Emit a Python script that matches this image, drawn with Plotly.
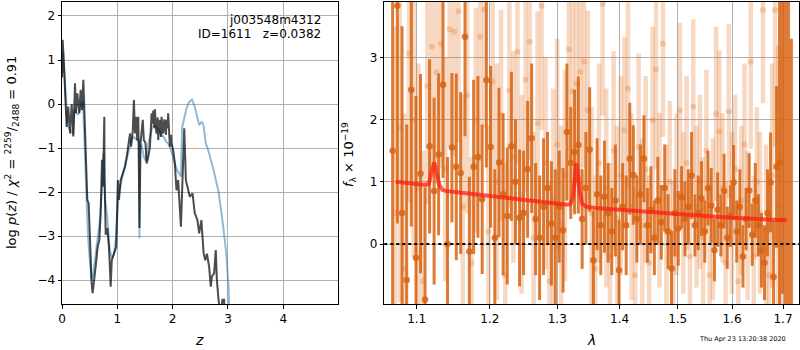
import plotly.graph_objects as go

# ---------------- left panel: log p(z) ----------------
z_dark = [0.00, 0.012, 0.036, 0.07, 0.084, 0.114, 0.145, 0.175, 0.205, 0.235, 0.253, 0.277, 0.313, 0.337,
          0.362, 0.386, 0.404, 0.428, 0.458, 0.482, 0.506, 0.536, 0.554, 0.585, 0.615, 0.645, 0.675, 0.699,
          0.723, 0.741, 0.765, 0.77, 0.79, 0.82, 0.85, 0.88, 0.90, 0.94, 0.98, 1.01, 1.03, 1.06, 1.10, 1.14,
          1.17, 1.20, 1.23, 1.25, 1.28, 1.30, 1.32, 1.34, 1.36, 1.38, 1.40, 1.42, 1.44, 1.46, 1.48, 1.51,
          1.53, 1.56, 1.59, 1.61, 1.62, 1.64, 1.65, 1.67, 1.68, 1.70, 1.71, 1.73, 1.74, 1.76, 1.77, 1.79,
          1.80, 1.82, 1.83, 1.85, 1.86, 1.88, 1.89, 1.91, 1.92, 1.94, 1.95, 1.97, 1.98,
          2.01, 2.04, 2.07, 2.10, 2.15, 2.18, 2.21, 2.24, 2.27, 2.31, 2.36, 2.40, 2.45, 2.48, 2.52, 2.56,
          2.59, 2.62, 2.66, 2.69, 2.71, 2.75, 2.78, 2.80, 2.83, 2.85, 2.87, 2.90, 2.93, 2.95]
logp_dark = [0.6, 1.46, 0.85, 0.09, -0.52, -0.06, -0.67, 0.0, -0.74, 0.47, -0.21, 0.24, -0.21, 0.32,
             -0.14, 0.55, -0.14, -1.27, -2.18, -2.26, -3.32, -4.08, -4.30, -4.0, -3.62, -3.25, -3.09, -2.49,
             -1.27, -1.88, -0.29, -1.7, -2.97, -2.82, -3.27, -4.15, -3.55, -3.40, -3.25, -1.73, -2.18, -1.73,
             -1.58, -1.42, -1.20, -0.97, -0.67, -0.97, -0.59, 0.09, -0.67, -0.29, -0.82, -0.29, -2.82, -0.89,
             -0.67, -0.36, -0.82, -0.89, -1.35, -1.20, -0.97, -0.5, -0.21, -0.45, -0.15, -0.55, -0.12, -0.6,
             -0.67, -0.3, -0.82, -0.45, -0.36, -0.75, -0.29, -0.6, -0.67, -0.35, -0.44, -0.7, -0.36, -0.55,
             -0.21, -0.8, -0.97, -0.7, -0.89,
             -1.05, -1.35, -1.96, -1.73, -2.79, -1.73, -0.55, -1.73,
             -1.88, -2.11, -2.03, -2.48, -2.64, -2.94, -2.64, -3.39, -3.55, -3.40, -3.70, -4.15, -3.92, -3.85,
             -3.32, -4.0, -4.45, -4.7, -4.8, -4.45, -4.45, -4.9]

z_blue = [0.00, 0.02, 0.05, 0.08, 0.10, 0.13, 0.16, 0.20, 0.23, 0.26, 0.29, 0.32, 0.35, 0.38, 0.41, 0.44,
          0.47, 0.50, 0.53, 0.56, 0.60, 0.64, 0.68, 0.72, 0.75, 0.78, 0.82, 0.86, 0.90, 0.94, 0.98, 1.02,
          1.06, 1.10, 1.14, 1.18, 1.22, 1.26, 1.30, 1.34, 1.38, 1.395, 1.40, 1.405, 1.44, 1.48, 1.52, 1.56,
          1.60, 1.64, 1.68, 1.72, 1.76, 1.80, 1.84, 1.88, 1.92, 1.96, 2.00, 2.04, 2.08, 2.12, 2.15, 2.17,
          2.21, 2.25, 2.30, 2.35, 2.40, 2.45, 2.48, 2.53, 2.56, 2.60, 2.65, 2.74, 2.83, 2.90, 2.97, 3.01, 3.03]
logp_blue = [0.7, 1.2, 0.6, -0.3, -0.5, -0.55, -0.6, -0.7, -0.1, -0.2, -0.25, -0.15, 0.0, 0.05, -0.8, -2.0,
             -3.0, -3.6, -4.0, -3.9, -3.5, -3.0, -2.7, -2.0, -1.12, -2.2, -2.6, -3.3, -3.5, -3.4, -3.0, -2.1,
             -1.8, -1.6, -1.4, -1.2, -0.95, -0.8, -0.75, -0.8, -0.85, -0.8, -3.05, -0.9, -0.95, -1.2, -1.3,
             -0.9, -0.7, -0.5, -0.5, -0.55, -0.6, -0.7, -0.75, -0.85, -0.9, -1.0, -1.2, -1.35, -1.5, -1.6,
             -1.65, -0.55, -0.29, -0.1, 0.05, 0.1, -0.06, -0.36, -0.48, -0.40, -0.5, -0.89, -1.08, -1.5,
             -1.99, -2.64, -3.39, -4.15, -5.0]

# ---------------- right panel: spectrum ----------------
wave_dark = [1.069, 1.075, 1.081, 1.087, 1.093, 1.099, 1.105, 1.111, 1.117, 1.123,
             1.129, 1.135, 1.141, 1.147, 1.153, 1.159, 1.165, 1.171, 1.177, 1.183,
             1.189, 1.195, 1.201, 1.207, 1.213, 1.219, 1.225, 1.231, 1.237, 1.243,
             1.249, 1.255, 1.261, 1.267, 1.273, 1.279, 1.285, 1.291, 1.297, 1.303,
             1.309, 1.315, 1.321, 1.327, 1.333, 1.339, 1.345, 1.351, 1.357, 1.363,
             1.369, 1.375, 1.381, 1.387, 1.393, 1.399, 1.405, 1.411, 1.417, 1.423,
             1.429, 1.435, 1.441, 1.447, 1.453, 1.459, 1.465, 1.471, 1.477, 1.483,
             1.489, 1.495, 1.501, 1.507, 1.513, 1.519, 1.525, 1.531, 1.537, 1.543,
             1.549, 1.555, 1.561, 1.567, 1.573, 1.579, 1.585, 1.591, 1.597, 1.603,
             1.609, 1.615, 1.621, 1.627, 1.633, 1.639, 1.645, 1.651, 1.657, 1.663,
             1.669, 1.675, 1.681, 1.687, 1.693, 1.699, 1.705, 1.711, 1.717]
flux_dark = [1.5, 3.83, 0.5, -0.58, 2.48, -0.22, 1.13, -0.89, 1.57, 0.85,
             1.44, 2.56, 0.0, 1.55, 1.24, 1.14, 3.33, -0.12, 1.24, 1.40,
             0.72, 2.63, 1.56, 0.10, 1.31, 0.8, 0.45, 1.57, 1.0, 0.42,
             0.5, 1.2, 1.7, 0.40, 0.1, 0.6, 0.9, 0.33, 0.1, 0.6,
             0.22, 1.8, 1.3, 1.48, 1.59, 0.4, 0.9, 1.52, -0.26, 0.8,
             0.3, 0.76, 0.5, 0.2, 0.7, -0.42, 0.6, 0.3, 1.37, 1.11,
             0.4, 0.8, 1.37, 0.3, 0.55, 0.1, 0.7, 0.35, 0.9, 0.2,
             -0.39, 0.5, 0.25, 0.75, 0.4, 0.6, 1.1, 0.3, 0.5, 0.73,
             0.2, 0.9, 0.62, -0.1, 0.55, 0.3, 0.85, 0.1, 0.45, 0.99,
             0.2, 0.6, -0.2, 0.4, 0.86, 0.15, 0.7, 0.3, -0.1, -0.30,
             0.5, 0.99, -0.53, 1.24, 1.31, 4.2, -1.5, 4.5, -1.2]
err_dark = [4.5, 3.5, 3.0, 2.5, 2.2, 2.6, 1.6, 1.8, 1.4, 1.5,
            1.3, 1.5, 1.4, 1.2, 1.5, 1.3, 1.6, 1.2, 1.4, 1.3,
            1.2, 1.4, 1.3, 1.1, 1.2, 1.3, 1.1, 1.2, 1.0, 1.1,
            1.0, 1.1, 1.2, 0.9, 1.0, 1.1, 0.9, 1.0, 1.1, 0.9,
            1.0, 1.1, 0.9, 1.0, 1.1, 0.8, 0.9, 1.0, 0.8, 0.9,
            0.8, 0.9, 0.8, 0.7, 0.9, 0.8, 0.7, 0.8, 0.9, 0.8,
            0.7, 0.8, 0.7, 0.6, 0.7, 0.6, 0.7, 0.6, 0.7, 0.6,
            0.6, 0.7, 0.6, 0.5, 0.6, 0.6, 0.7, 0.5, 0.6, 0.6,
            0.5, 0.6, 0.6, 0.5, 0.6, 0.5, 0.6, 0.5, 0.5, 0.6,
            0.5, 0.6, 0.5, 0.5, 0.6, 0.5, 0.6, 0.5, 0.6, 0.6,
            0.7, 0.8, 0.9, 1.3, 2.6, 5.0, 6.0, 5.5, 4.5]

wave_light = [1.072, 1.078, 1.084, 1.090, 1.096, 1.102, 1.108, 1.114, 1.120, 1.126,
              1.132, 1.138, 1.144, 1.150, 1.156, 1.162, 1.168, 1.174, 1.180, 1.186,
              1.192, 1.198, 1.204, 1.210, 1.216, 1.222, 1.228, 1.234, 1.240, 1.246,
              1.252, 1.258, 1.264, 1.270, 1.276, 1.282, 1.288, 1.294, 1.300, 1.306,
              1.312, 1.318, 1.324, 1.330, 1.336, 1.342, 1.348, 1.354, 1.360, 1.366,
              1.372, 1.378, 1.384, 1.390, 1.396, 1.402, 1.408, 1.414, 1.420, 1.426,
              1.432, 1.438, 1.444, 1.450, 1.456, 1.462, 1.468, 1.474, 1.480, 1.486,
              1.492, 1.498, 1.504, 1.510, 1.516, 1.522, 1.528, 1.534, 1.540, 1.546,
              1.552, 1.558, 1.564, 1.570, 1.576, 1.582, 1.588, 1.594, 1.600, 1.606,
              1.612, 1.618, 1.624, 1.630, 1.636, 1.642, 1.648, 1.654, 1.660, 1.666,
              1.672, 1.678, 1.684, 1.690, 1.696]
flux_light = [0.5, 1.87, -0.4, 3.06, 1.99, 0.9, -0.6, 2.54, 3.17, 2.76,
              3.22, 1.2, 3.45, 3.41, 3.74, 0.6, 2.39, -0.3, 1.99, 3.33,
              3.77, 0.2, 2.61, 1.0, 2.07, -0.5, 2.47, 1.4, 3.09, 0.8,
              2.64, 3.25, 0.1, 1.94, 3.83, 1.3, -0.6, 0.7, 1.6, 0.3,
              1.1, 3.13, 2.45, 2.58, 2.77, 2.93, 2.15, 0.5, -0.4, 1.3,
              3.86, 0.9, -0.2, 1.5, 0.4, 1.1, 1.83, 2.5, 0.6, -0.5,
              1.56, 0.3, 1.2, -0.3, 1.99, 2.8, 0.7, 3.22, 0.2, 1.0,
              -0.4, 0.8, 2.15, 0.5, 1.3, -0.2, 2.21, 0.6, 1.0, 0.1,
              1.5, -0.5, 0.4, 2.09, 1.81, 0.9, -0.3, 2.13, 0.5, 1.2,
              -0.6, 0.7, 1.6, 0.3, 2.93, -0.2, 1.0, 0.5, 3.76, 0.2,
              -0.5, 1.1, 3.76, 0.6, 2.0]
err_light = [3.0, 2.8, 2.5, 2.4, 2.2, 2.0, 2.1, 1.9, 2.0, 1.8,
             2.0, 1.8, 1.9, 2.0, 2.1, 1.8, 1.9, 1.7, 1.8, 2.0,
             1.9, 1.7, 1.8, 1.9, 1.7, 1.8, 1.9, 1.7, 1.8, 1.6,
             1.8, 1.9, 1.7, 1.8, 2.0, 1.7, 1.6, 1.8, 1.7, 1.6,
             1.7, 1.8, 1.7, 1.6, 1.8, 1.7, 1.6, 1.7, 1.5, 1.6,
             1.8, 1.6, 1.5, 1.6, 1.5, 1.6, 1.5, 1.6, 1.5, 1.4,
             1.5, 1.4, 1.5, 1.4, 1.5, 1.6, 1.4, 1.5, 1.4, 1.3,
             1.4, 1.3, 1.4, 1.3, 1.4, 1.3, 1.4, 1.3, 1.4, 1.3,
             1.3, 1.4, 1.3, 1.4, 1.3, 1.2, 1.3, 1.4, 1.3, 1.2,
             1.3, 1.2, 1.3, 1.2, 1.4, 1.3, 1.2, 1.3, 1.5, 1.4,
             1.6, 1.8, 2.2, 2.6, 3.0]

model_wave = [1.073, 1.09, 1.105, 1.112, 1.116, 1.119, 1.1215, 1.123, 1.1245, 1.127, 1.130, 1.134, 1.14,
              1.17, 1.2, 1.25, 1.3, 1.315, 1.320, 1.3245, 1.327, 1.3295, 1.332, 1.335, 1.339, 1.345, 1.36,
              1.4, 1.45, 1.5, 1.55, 1.6, 1.65, 1.707]
model_flux = [1.0, 0.98, 0.95, 0.95, 0.97, 1.1, 1.25, 1.31, 1.25, 1.1, 0.95, 0.87, 0.85,
              0.81, 0.77, 0.71, 0.65, 0.63, 0.64, 0.75, 1.0, 1.30, 1.15, 0.85, 0.65, 0.60, 0.58,
              0.55, 0.51, 0.47, 0.45, 0.42, 0.40, 0.38]

xticks_z = [0, 1, 2, 3, 4]
yticks_z = [-4, -3, -2, -1, 0, 1, 2]
xticks_w = [1.1, 1.2, 1.3, 1.4, 1.5, 1.6, 1.7]
yticks_w = [0, 1, 2, 3]

FONT = "DejaVu Sans"
ORANGE = "rgba(215,100,20,0.85)"
ORANGE_LIGHT = "rgba(225,110,30,0.27)"

fig = go.Figure()

fig.add_trace(go.Scatter(x=z_blue, y=logp_blue, mode="lines",
                         line=dict(color="rgba(31,119,180,0.5)", width=2),
                         xaxis="x", yaxis="y", hoverinfo="skip"))
fig.add_trace(go.Scatter(x=z_dark, y=logp_dark, mode="lines",
                         line=dict(color="rgba(0,0,0,0.7)", width=2),
                         xaxis="x", yaxis="y", hoverinfo="skip"))

fig.add_trace(go.Scatter(x=wave_light, y=flux_light, mode="markers",
                         marker=dict(color=ORANGE_LIGHT, size=6, line=dict(width=0)),
                         error_y=dict(type="data", array=err_light, color=ORANGE_LIGHT,
                                      thickness=4.5, width=0),
                         xaxis="x2", yaxis="y2", hoverinfo="skip"))
fig.add_trace(go.Scatter(x=wave_dark, y=flux_dark, mode="markers",
                         marker=dict(color=ORANGE, size=6.5, line=dict(width=0)),
                         error_y=dict(type="data", array=err_dark, color=ORANGE,
                                      thickness=3, width=0),
                         xaxis="x2", yaxis="y2", hoverinfo="skip"))
fig.add_trace(go.Scatter(x=model_wave, y=model_flux, mode="lines",
                         line=dict(color="rgba(255,25,15,0.72)", width=4),
                         xaxis="x2", yaxis="y2", hoverinfo="skip"))

fig.add_shape(type="line", xref="x2 domain", x0=0, x1=1, yref="y2", y0=0, y1=0,
              line=dict(color="black", width=2, dash="dot"), layer="above")

axis_common = dict(showgrid=True, gridcolor="#b0b0b0", gridwidth=1, showline=True, mirror=True,
                   linecolor="black", linewidth=1, ticks="outside", ticklen=3.5, tickcolor="black",
                   zeroline=False, tickfont=dict(family=FONT, size=12, color="black"))

fig.update_layout(
    width=800, height=350,
    margin=dict(l=62, r=1, t=2, b=46),
    paper_bgcolor="white", plot_bgcolor="white",
    showlegend=False,
    xaxis=dict(domain=[0, 0.3745], range=[0, 4.99], tickvals=xticks_z, anchor="y", **axis_common),
    yaxis=dict(domain=[0, 1], range=[-4.545, 2.318], tickvals=yticks_z, anchor="x", **axis_common),
    xaxis2=dict(domain=[0.4373, 1.0], type="log", range=[0.02467, 0.2387], tickvals=xticks_w,
                ticktext=[str(v) for v in xticks_w], anchor="y2", **axis_common),
    yaxis2=dict(domain=[0, 1], range=[-0.964, 3.889], tickvals=yticks_w, anchor="x2", **axis_common),
)

def px_x(px):
    return (px - 62) / 737.0

def px_y(py):
    return (304 - py) / 302.0

ann = [
    dict(text="j003548m4312", x=px_x(323), y=px_y(20), xanchor="right", yanchor="middle", size=12),
    dict(text="ID=1611   z=0.0382", x=px_x(323), y=px_y(34), xanchor="right", yanchor="middle", size=12),
    dict(text="log <i>p</i>(<i>z</i>) / <i>χ</i><sup>2</sup> = <sup>2259</sup>/<sub>2488</sub> = 0.91",
         x=px_x(12), y=px_y(153), xanchor="center", yanchor="middle", size=13, angle=-90),
    dict(text="<i>f</i><sub>λ</sub> × 10<sup>−19</sup>", x=px_x(349), y=px_y(155),
         xanchor="center", yanchor="middle", size=13, angle=-90),
    dict(text="<i>z</i>", x=px_x(199), y=px_y(340), xanchor="center", yanchor="middle", size=14),
    dict(text="<i>λ</i>", x=px_x(591), y=px_y(340), xanchor="center", yanchor="middle", size=14),
    dict(text="Thu Apr 23 13:20:38 2020", x=px_x(742), y=px_y(339), xanchor="center",
         yanchor="middle", size=6.5),
]
for a in ann:
    fig.add_annotation(text=a["text"], x=a["x"], y=a["y"], xref="paper", yref="paper",
                       xanchor=a["xanchor"], yanchor=a["yanchor"], showarrow=False,
                       textangle=a.get("angle", 0),
                       font=dict(family=FONT, size=a["size"], color="black"))

fig.write_html("out.html", config={"displayModeBar": False},
               post_script="document.body.style.margin='0';document.body.style.overflow='hidden';")
